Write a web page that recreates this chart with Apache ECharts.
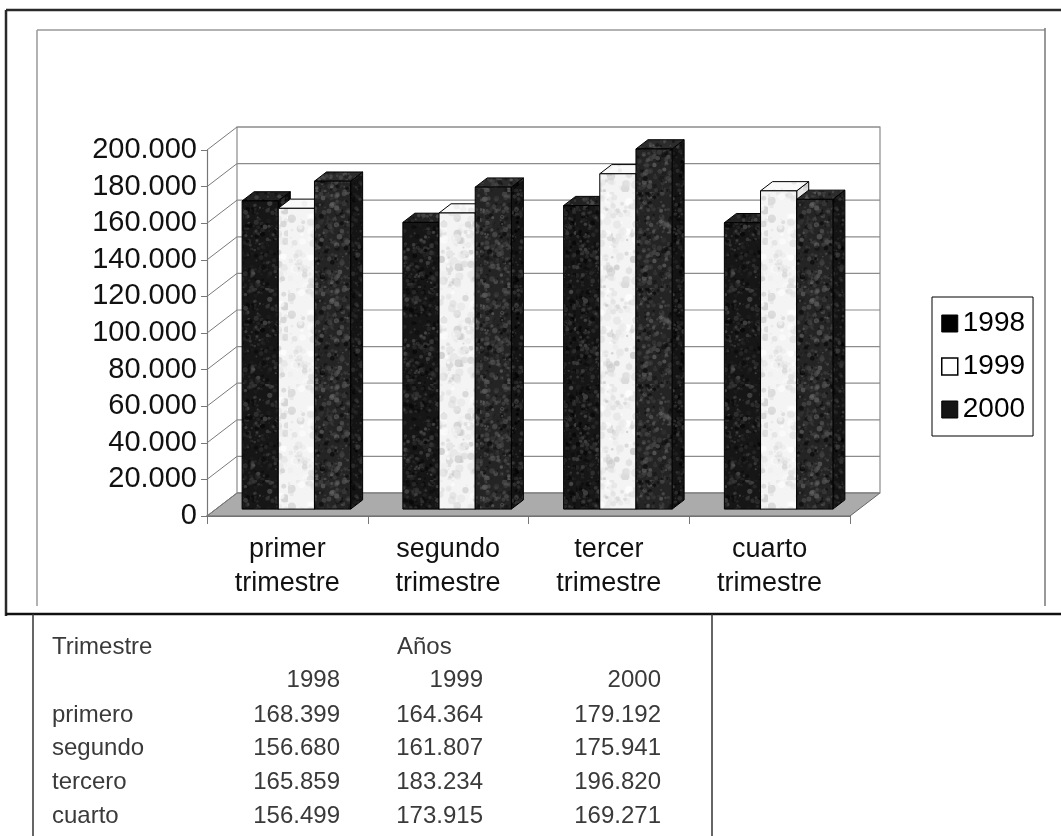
<!DOCTYPE html>
<html>
<head>
<meta charset="utf-8">
<script src="https://cdn.jsdelivr.net/npm/echarts@6/dist/echarts.min.js"></script>
<style>
html,body{margin:0;padding:0;background:#fff}
#grafico{width:1061px;height:836px}
</style>
</head>
<body>
<div id="grafico"></div>
<script>
// datos del grafico (tabla de abajo)
var trimestres = ['primer\ntrimestre', 'segundo\ntrimestre', 'tercer\ntrimestre', 'cuarto\ntrimestre'];
var filas = ['primero', 'segundo', 'tercero', 'cuarto'];
var anios = ['1998', '1999', '2000'];
var v1998 = [168399, 156680, 165859, 156499];
var v1999 = [164364, 161807, 183234, 173915];
var v2000 = [179192, 175941, 196820, 169271];
var ticksY = [0, 20000, 40000, 60000, 80000, 100000, 120000, 140000, 160000, 180000, 200000];

var FUENTE = '"Liberation Sans", Arial, sans-serif';
var DX = 30, DY = -23;   // profundidad del efecto 3D
var Z0 = 0.3, Z1 = 0.7;  // las barras van en medio del fondo

// separador de miles con punto
function miles(n) {
    return String(n).replace(/\B(?=(\d{3})+(?!\d))/g, '.');
}

// textura tipo marmol/granito (solo decorativa)
function textura(fondo, manchas, semilla, n, rmax) {
    var c = document.createElement('canvas');
    c.width = c.height = 96;
    var g = c.getContext('2d');
    g.fillStyle = fondo;
    g.fillRect(0, 0, 96, 96);
    var s = semilla;
    function rnd() { s = (s * 16807) % 2147483647; return s / 2147483647; }
    for (var i = 0; i < n; i++) {
        g.fillStyle = manchas[Math.floor(rnd() * manchas.length)];
        g.globalAlpha = 0.25 + rnd() * 0.5;
        g.beginPath();
        g.arc(rnd() * 96, rnd() * 96, 0.4 + rnd() * rmax, 0, 7);
        g.fill();
    }
    return c;
}

var tex = {
    '1998': [
        textura('#161616', ['#3c3c3c', '#505050', '#050505', '#2a2a2a'], 11, 700, 2.2),
        textura('#0c0c0c', ['#2e2e2e', '#404040', '#000'], 13, 600, 2),
        textura('#222', ['#4a4a4a', '#5a5a5a', '#0a0a0a'], 17, 600, 2)
    ],
    '1999': [
        textura('#f4f4f4', ['#d0d0d0', '#dcdcdc', '#e6e6e6', '#fff', '#c4c4c4'], 23, 260, 4),
        textura('#e8e8e8', ['#c8c8c8', '#d4d4d4', '#f4f4f4'], 29, 200, 3.5),
        textura('#fafafa', ['#e0e0e0', '#ececec'], 31, 150, 3)
    ],
    '2000': [
        textura('#242424', ['#4c4c4c', '#606060', '#0a0a0a', '#383838'], 41, 750, 2.4),
        textura('#141414', ['#363636', '#484848', '#000'], 43, 650, 2),
        textura('#2c2c2c', ['#555', '#666', '#111'], 47, 600, 2)
    ]
};

function patron(c) {
    return { image: c, repeat: 'repeat' };
}

// barra 3D: cara frontal, lateral y superior
function barra(k, anio) {
    return function (params, api) {
        var cat = api.value(0);
        var top = api.coord([cat, api.value(1)]);
        var base = api.coord([cat, 0]);
        var banda = api.size([1, 0])[0];
        var bw = banda * 0.225;
        var x0 = top[0] + (k - 1) * bw - bw / 2;
        var x1 = x0 + bw;
        var ox0 = DX * Z0, oy0 = DY * Z0, ox1 = DX * Z1, oy1 = DY * Z1;
        var t = top[1], b = base[1];
        var borde = { stroke: '#000', lineWidth: 1 };
        return {
            type: 'group',
            children: [
                {
                    type: 'polygon',
                    shape: { points: [[x1 + ox0, t + oy0], [x1 + ox1, t + oy1], [x1 + ox1, b + oy1], [x1 + ox0, b + oy0]] },
                    style: Object.assign({ fill: patron(tex[anio][1]) }, borde)
                },
                {
                    type: 'polygon',
                    shape: { points: [[x0 + ox0, t + oy0], [x1 + ox0, t + oy0], [x1 + ox1, t + oy1], [x0 + ox1, t + oy1]] },
                    style: Object.assign({ fill: patron(tex[anio][2]) }, borde)
                },
                {
                    type: 'rect',
                    shape: { x: x0 + ox0, y: t + oy0, width: bw, height: b - t },
                    style: Object.assign({ fill: patron(tex[anio][0]) }, borde)
                }
            ]
        };
    };
}

// pared del fondo y suelo gris
function pared(params, api) {
    var cs = params.coordSys;
    var yb = cs.y + cs.height;
    return {
        type: 'group',
        children: [
            {
                type: 'rect',
                shape: { x: cs.x + DX, y: cs.y + DY, width: cs.width, height: cs.height },
                style: { fill: '#fff', stroke: '#8a8a8a', lineWidth: 1.2 }
            },
            {
                type: 'polygon',
                shape: { points: [[cs.x, yb], [cs.x + cs.width, yb], [cs.x + cs.width + DX, yb + DY], [cs.x + DX, yb + DY]] },
                style: { fill: '#ababab', stroke: '#666', lineWidth: 1 }
            }
        ]
    };
}

// lineas de division en la pared y diagonales del lado izquierdo
function rejilla(params, api) {
    var cs = params.coordSys;
    var y = api.coord([0, api.value(1)])[1];
    return {
        type: 'group',
        children: [
            {
                type: 'line',
                shape: { x1: cs.x, y1: y, x2: cs.x + DX, y2: y + DY },
                style: { stroke: '#7a7a7a', lineWidth: 1 }
            },
            {
                type: 'line',
                shape: { x1: cs.x + DX, y1: y + DY, x2: cs.x + cs.width + DX, y2: y + DY },
                style: { stroke: '#8c8c8c', lineWidth: 1.2 }
            }
        ]
    };
}

function datos(arr) {
    return arr.map(function (v, i) { return [i, v]; });
}

// tabla de valores debajo del grafico
var columnasX = [340, 483, 661];
var filasY = [715, 748, 782, 816];
var estiloTabla = { fontSize: 24, fontFamily: FUENTE, fill: '#3a3a3a' };
var tabla = [
    { type: 'text', x: 52, y: 647, style: Object.assign({ text: 'Trimestre', verticalAlign: 'middle' }, estiloTabla) },
    { type: 'text', x: 397, y: 647, style: Object.assign({ text: 'Años', verticalAlign: 'middle' }, estiloTabla) }
];
var series3 = [v1998, v1999, v2000];
anios.forEach(function (a, j) {
    tabla.push({ type: 'text', x: columnasX[j], y: 680, style: Object.assign({ text: a, align: 'right', verticalAlign: 'middle' }, estiloTabla) });
});
filas.forEach(function (f, i) {
    tabla.push({ type: 'text', x: 52, y: filasY[i], style: Object.assign({ text: f, verticalAlign: 'middle' }, estiloTabla) });
    series3.forEach(function (s, j) {
        tabla.push({ type: 'text', x: columnasX[j], y: filasY[i], style: Object.assign({ text: miles(s[i]), align: 'right', verticalAlign: 'middle' }, estiloTabla) });
    });
});

// marcos (escaneo)
var marcos = [
    { type: 'line', shape: { x1: 6, y1: 10, x2: 1061, y2: 10 }, style: { stroke: '#2a2a2a', lineWidth: 2.5 } },
    { type: 'line', shape: { x1: 6, y1: 10, x2: 6, y2: 616 }, style: { stroke: '#2a2a2a', lineWidth: 2.5 } },
    { type: 'line', shape: { x1: 37, y1: 30, x2: 1045, y2: 30 }, style: { stroke: '#999', lineWidth: 1.5 } },
    { type: 'line', shape: { x1: 37, y1: 30, x2: 37, y2: 606 }, style: { stroke: '#999', lineWidth: 1.5 } },
    { type: 'line', shape: { x1: 1045, y1: 28, x2: 1045, y2: 606 }, style: { stroke: '#777', lineWidth: 1.5 } },
    { type: 'line', shape: { x1: 6, y1: 614, x2: 1061, y2: 614 }, style: { stroke: '#111', lineWidth: 2.5 } },
    { type: 'line', shape: { x1: 33, y1: 614, x2: 33, y2: 836 }, style: { stroke: '#333', lineWidth: 1.5 } },
    { type: 'line', shape: { x1: 712, y1: 614, x2: 712, y2: 836 }, style: { stroke: '#333', lineWidth: 1.5 } }
];

var myChart = echarts.init(document.getElementById('grafico'));
myChart.setOption({
    animation: false,
    backgroundColor: '#fff',
    grid: { left: 207, right: 211, top: 150, bottom: 320 },
    legend: {
        orient: 'vertical',
        left: 932,
        top: 297,
        borderColor: '#000',
        borderWidth: 1,
        padding: [11, 8, 11, 9],
        itemWidth: 16,
        itemHeight: 17,
        itemGap: 12,
        icon: 'rect',
        textStyle: { fontSize: 28, lineHeight: 31, color: '#000', fontFamily: FUENTE },
        data: [
            { name: '1998', itemStyle: { color: '#000', borderColor: '#000', borderWidth: 1 } },
            { name: '1999', itemStyle: { color: '#fff', borderColor: '#000', borderWidth: 1.5 } },
            { name: '2000', itemStyle: { color: '#151515', borderColor: '#000', borderWidth: 1 } }
        ]
    },
    xAxis: {
        type: 'category',
        data: trimestres,
        axisLine: { lineStyle: { color: '#555', width: 1.5 } },
        axisTick: { show: true, length: 8, lineStyle: { color: '#777' } },
        axisLabel: { fontSize: 27, lineHeight: 34, margin: 17, color: '#111', fontFamily: FUENTE },
        splitLine: { show: false }
    },
    yAxis: {
        type: 'value',
        min: 0,
        max: 200000,
        interval: 20000,
        axisLine: { show: true, lineStyle: { color: '#777', width: 1.2 } },
        axisTick: { show: true, length: 6, lineStyle: { color: '#777' } },
        axisLabel: { fontSize: 29, margin: 10, color: '#111', fontFamily: FUENTE, formatter: miles },
        splitLine: { show: false }
    },
    graphic: marcos.concat(tabla),
    series: [
        { type: 'custom', name: 'pared', z: 1, silent: true, renderItem: pared, data: [[0, 0]] },
        { type: 'custom', name: 'rejilla', z: 1.5, silent: true, renderItem: rejilla, data: ticksY.map(function (v) { return [0, v]; }) },
        { type: 'custom', name: '1998', z: 3, renderItem: barra(0, '1998'), itemStyle: { color: '#000' }, data: datos(v1998) },
        { type: 'custom', name: '1999', z: 3, renderItem: barra(1, '1999'), itemStyle: { color: '#fff' }, data: datos(v1999) },
        { type: 'custom', name: '2000', z: 3, renderItem: barra(2, '2000'), itemStyle: { color: '#151515' }, data: datos(v2000) }
    ]
});
</script>
</body>
</html>
